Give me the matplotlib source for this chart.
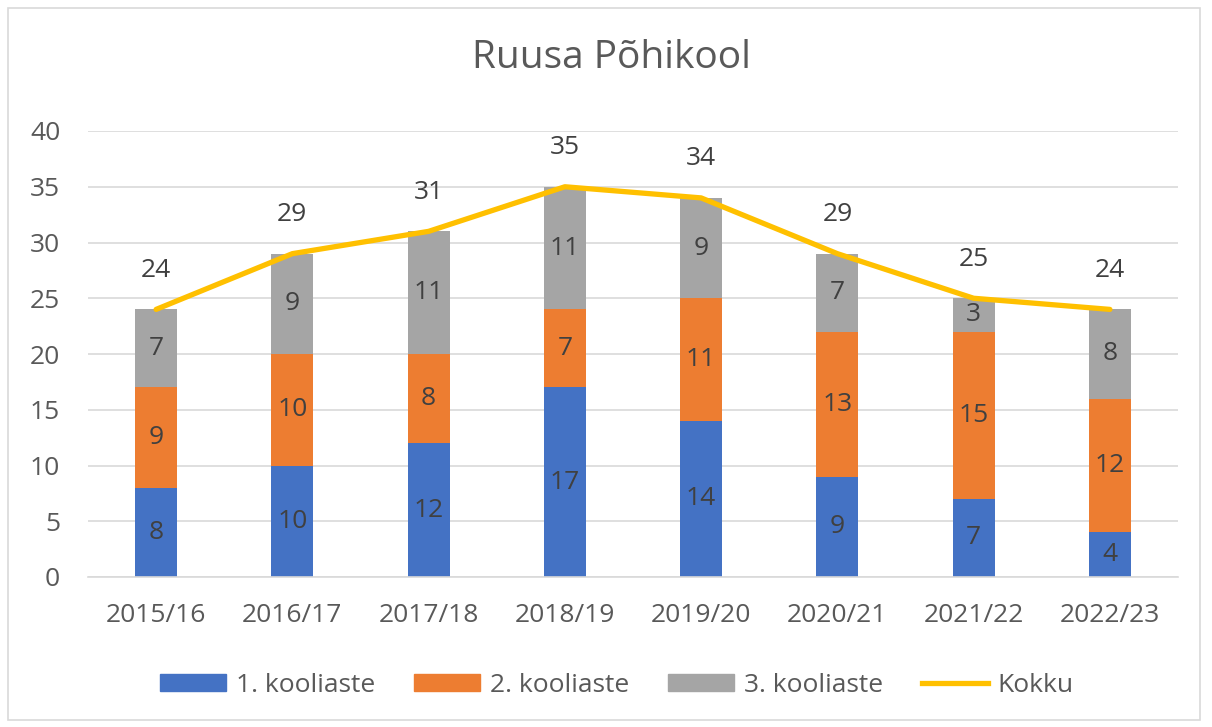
import matplotlib
matplotlib.use("Agg")
import matplotlib.pyplot as plt
from matplotlib.patches import Rectangle
from matplotlib.lines import Line2D
from matplotlib.patches import Patch
import numpy as np

plt.rcParams['font.family'] = ['Open Sans', 'DejaVu Sans']

categories = ["2015/16", "2016/17", "2017/18", "2018/19", "2019/20", "2020/21", "2021/22", "2022/23"]
aste1 = [8, 10, 12, 17, 14, 9, 7, 4]
aste2 = [9, 10, 8, 7, 11, 13, 15, 12]
aste3 = [7, 9, 11, 11, 9, 7, 3, 8]
kokku = [24, 29, 31, 35, 34, 29, 25, 24]
series_names = ["1. kooliaste", "2. kooliaste", "3. kooliaste", "Kokku"]

c1, c2, c3, cl = "#4472C4", "#ED7D31", "#A5A5A5", "#FFC000"
txt = "#595959"
lbl = "#404040"

fig = plt.figure(figsize=(12.12, 7.27), dpi=100)
fig.patches.append(Rectangle((8/1212, 1-720/727), 1192/1212, 712/727, transform=fig.transFigure,
                             fill=False, edgecolor="#D9D9D9", linewidth=1.2))
ax = fig.add_axes([88/1212, 1-577/727, 1090/1212, 446/727])

x = np.arange(len(categories))
w = 0.31
a1 = np.array(aste1); a2 = np.array(aste2); a3 = np.array(aste3)
ax.bar(x, a1, w, color=c1, zorder=2)
ax.bar(x, a2, w, bottom=a1, color=c2, zorder=2)
ax.bar(x, a3, w, bottom=a1 + a2, color=c3, zorder=2)
ax.plot(x, kokku, color=cl, linewidth=3.8, zorder=3, solid_capstyle='round')

fs = 19
for i in range(len(x)):
    ax.text(x[i], a1[i]/2, str(a1[i]), ha='center', va='center', fontsize=fs, color=lbl, zorder=4)
    ax.text(x[i], a1[i] + a2[i]/2, str(a2[i]), ha='center', va='center', fontsize=fs, color=lbl, zorder=4)
    ax.text(x[i], a1[i] + a2[i] + a3[i]/2, str(a3[i]), ha='center', va='center', fontsize=fs, color=lbl, zorder=4)
    ax.annotate(str(kokku[i]), (x[i], kokku[i]), xytext=(0, 23.5), textcoords='offset points',
                ha='center', va='baseline', fontsize=fs, color=lbl)

ax.set_xlim(-0.5, len(x) - 0.5)
ax.set_ylim(0, 40)
ax.set_yticks(range(0, 41, 5))
ax.set_xticks(x)
ax.set_xticklabels(categories)
ax.tick_params(axis='both', length=0, labelsize=fs, colors=txt)
ax.tick_params(axis='y', pad=20)
ax.tick_params(axis='x', pad=19)
ax.grid(axis='y', color="#D9D9D9", linewidth=1.2, zorder=0)
ax.set_axisbelow(True)
for s in ['top', 'right', 'left']:
    ax.spines[s].set_visible(False)
ax.spines['bottom'].set_color("#D9D9D9")
ax.spines['bottom'].set_linewidth(1.2)

fig.text(611/1212, 1-68/727, "Ruusa Põhikool", ha='center', va='baseline', fontsize=28, color=txt)

handles = [Patch(color=c1), Patch(color=c2), Patch(color=c3),
           Line2D([0], [0], color=cl, linewidth=3.8)]
fig.legend(handles, series_names, loc='center', bbox_to_anchor=(617/1212, 1-685/727), ncol=4,
           frameon=False, fontsize=fs, labelcolor=txt, handlelength=2.5, handleheight=0.6,
           columnspacing=1.5, handletextpad=0.35)

fig.savefig("out.png", dpi=100)
